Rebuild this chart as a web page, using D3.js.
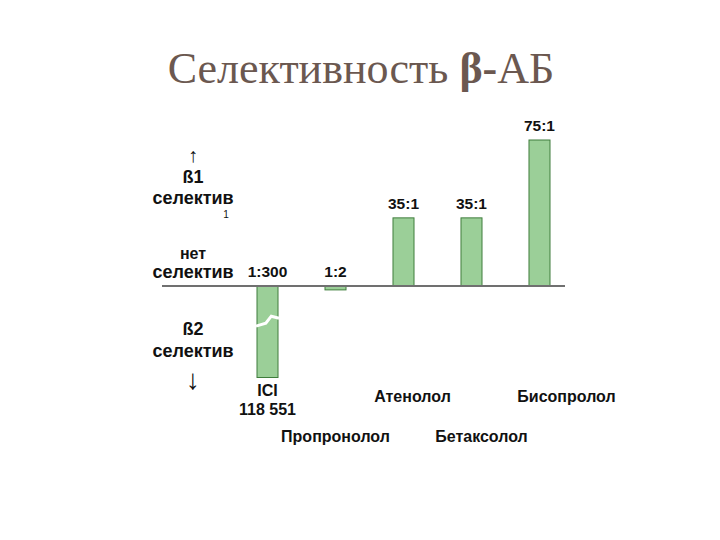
<!DOCTYPE html>
<html><head><meta charset="utf-8">
<script src="https://cdn.jsdelivr.net/npm/d3@7"></script>
<style>body{margin:0;background:#fff}svg{display:block}</style>
</head><body>
<script>
// Data
const drugs = ["ICI 118 551", "Пропронолол", "Атенолол", "Бетаксолол", "Бисопролол"];
const ratioLabels = ["1:300", "1:2", "35:1", "35:1", "75:1"];
const values = [-300, -2, 35, 35, 75];          // β1/β2 selectivity (negative = β2)
const displayFloor = -47;                       // axis break: bars below this are cut
const nameLines = [["ICI", "118 551"], ["Пропронолол"], ["Атенолол"], ["Бетаксолол"], ["Бисопролол"]];
const nameRow = [0, 1, 0, 1, 0];

const W = 720, H = 540;
const SANS = "'Liberation Sans', Arial, sans-serif";
const SERIF = "'Liberation Serif', 'Times New Roman', serif";
const svg = d3.select("body").append("svg").attr("width", W).attr("height", H);

const x = d3.scaleBand().domain(drugs).range([257, 550]).paddingInner(0.691).paddingOuter(0);
const y = d3.scaleLinear().domain([0, 75]).range([286, 140]);
const nameShift = [0, 0, 9, 10, 27];

// Title
const title = svg.append("text").attr("x", 361).attr("y", 83).attr("text-anchor", "middle")
  .style("font-family", SERIF).style("font-size", "44px").attr("fill", "#6b5850");
title.append("tspan").text("Селективность ");
title.append("tspan").style("font-weight", "bold").text("β-");
title.append("tspan").text("АБ");

// Bars
const shown = v => Math.max(v, displayFloor);
svg.selectAll("rect.bar").data(values).join("rect").attr("class", "bar")
  .attr("x", (d, i) => x(drugs[i]))
  .attr("width", x.bandwidth())
  .attr("y", d => y(Math.max(0, shown(d))))
  .attr("height", d => Math.abs(y(shown(d)) - y(0)))
  .attr("fill", "#9bcf98").attr("stroke", "#3f7d3c").attr("stroke-width", 1);

// Axis-break mark on bars clipped at displayFloor
values.forEach((v, i) => {
  if (v < displayFloor) {
    const x0 = x(drugs[i]), bw = x.bandwidth();
    const ym = y(displayFloor / 2.6);
    svg.append("path")
      .attr("d", d3.line()([[x0 - 1, ym + 5], [x0 + bw * 0.42, ym + 2], [x0 + bw * 0.68, ym - 5], [x0 + bw + 1, ym - 3]]))
      .attr("fill", "none").attr("stroke", "#fff").attr("stroke-width", 3);
  }
});

// Baseline
svg.append("line").attr("x1", 162).attr("x2", 565).attr("y1", y(0)).attr("y2", y(0))
  .attr("stroke", "#707070").attr("stroke-width", 2);

// Ratio labels
svg.selectAll("text.ratio").data(values).join("text").attr("class", "ratio")
  .attr("x", (d, i) => x(drugs[i]) + x.bandwidth() / 2)
  .attr("y", d => d > 0 ? y(d) - 9 : y(0) - 9)
  .attr("text-anchor", "middle")
  .style("font-family", SANS).style("font-weight", "bold").style("font-size", "15.5px")
  .attr("fill", "#111")
  .text((d, i) => ratioLabels[i]);

// Drug names
nameLines.forEach((lines, i) => {
  const cx = x(drugs[i]) + x.bandwidth() / 2 + nameShift[i];
  const t = svg.append("text").attr("text-anchor", "middle")
    .style("font-family", SANS).style("font-weight", "bold").style("font-size", "16px").attr("fill", "#111");
  if (lines.length > 1) {
    lines.forEach((l, k) => t.append("tspan").attr("x", cx).attr("y", 396 + k * 19).text(l));
  } else {
    t.attr("x", cx).attr("y", nameRow[i] ? 442 : 402).text(lines[0]);
  }
});

// Left side labels
const left = [
  {t: "ß1", y: 183, s: 18},
  {t: "селектив", y: 204, s: 18},
  {t: "нет", y: 259, s: 16},
  {t: "селектив", y: 278, s: 18},
  {t: "ß2", y: 335, s: 18},
  {t: "селектив", y: 357, s: 18}
];
svg.selectAll("text.left").data(left).join("text").attr("class", "left")
  .attr("x", 193).attr("y", d => d.y).attr("text-anchor", "middle")
  .style("font-family", SANS).style("font-weight", "bold").style("font-size", d => d.s + "px")
  .attr("fill", "#111").text(d => d.t);
// arrows
svg.append("text").attr("x", 193).attr("y", 162).attr("text-anchor", "middle")
  .style("font-family", SERIF).style("font-size", "20px").attr("fill", "#111").text("↑");
svg.append("text").attr("x", 193).attr("y", 389).attr("text-anchor", "middle")
  .style("font-family", SERIF).style("font-size", "28px").attr("fill", "#111").text("↓");
svg.append("text").attr("x", 226).attr("y", 218).attr("text-anchor", "middle")
  .style("font-family", SANS).style("font-size", "10px").attr("fill", "#111").text("1");
</script>
</body></html>
